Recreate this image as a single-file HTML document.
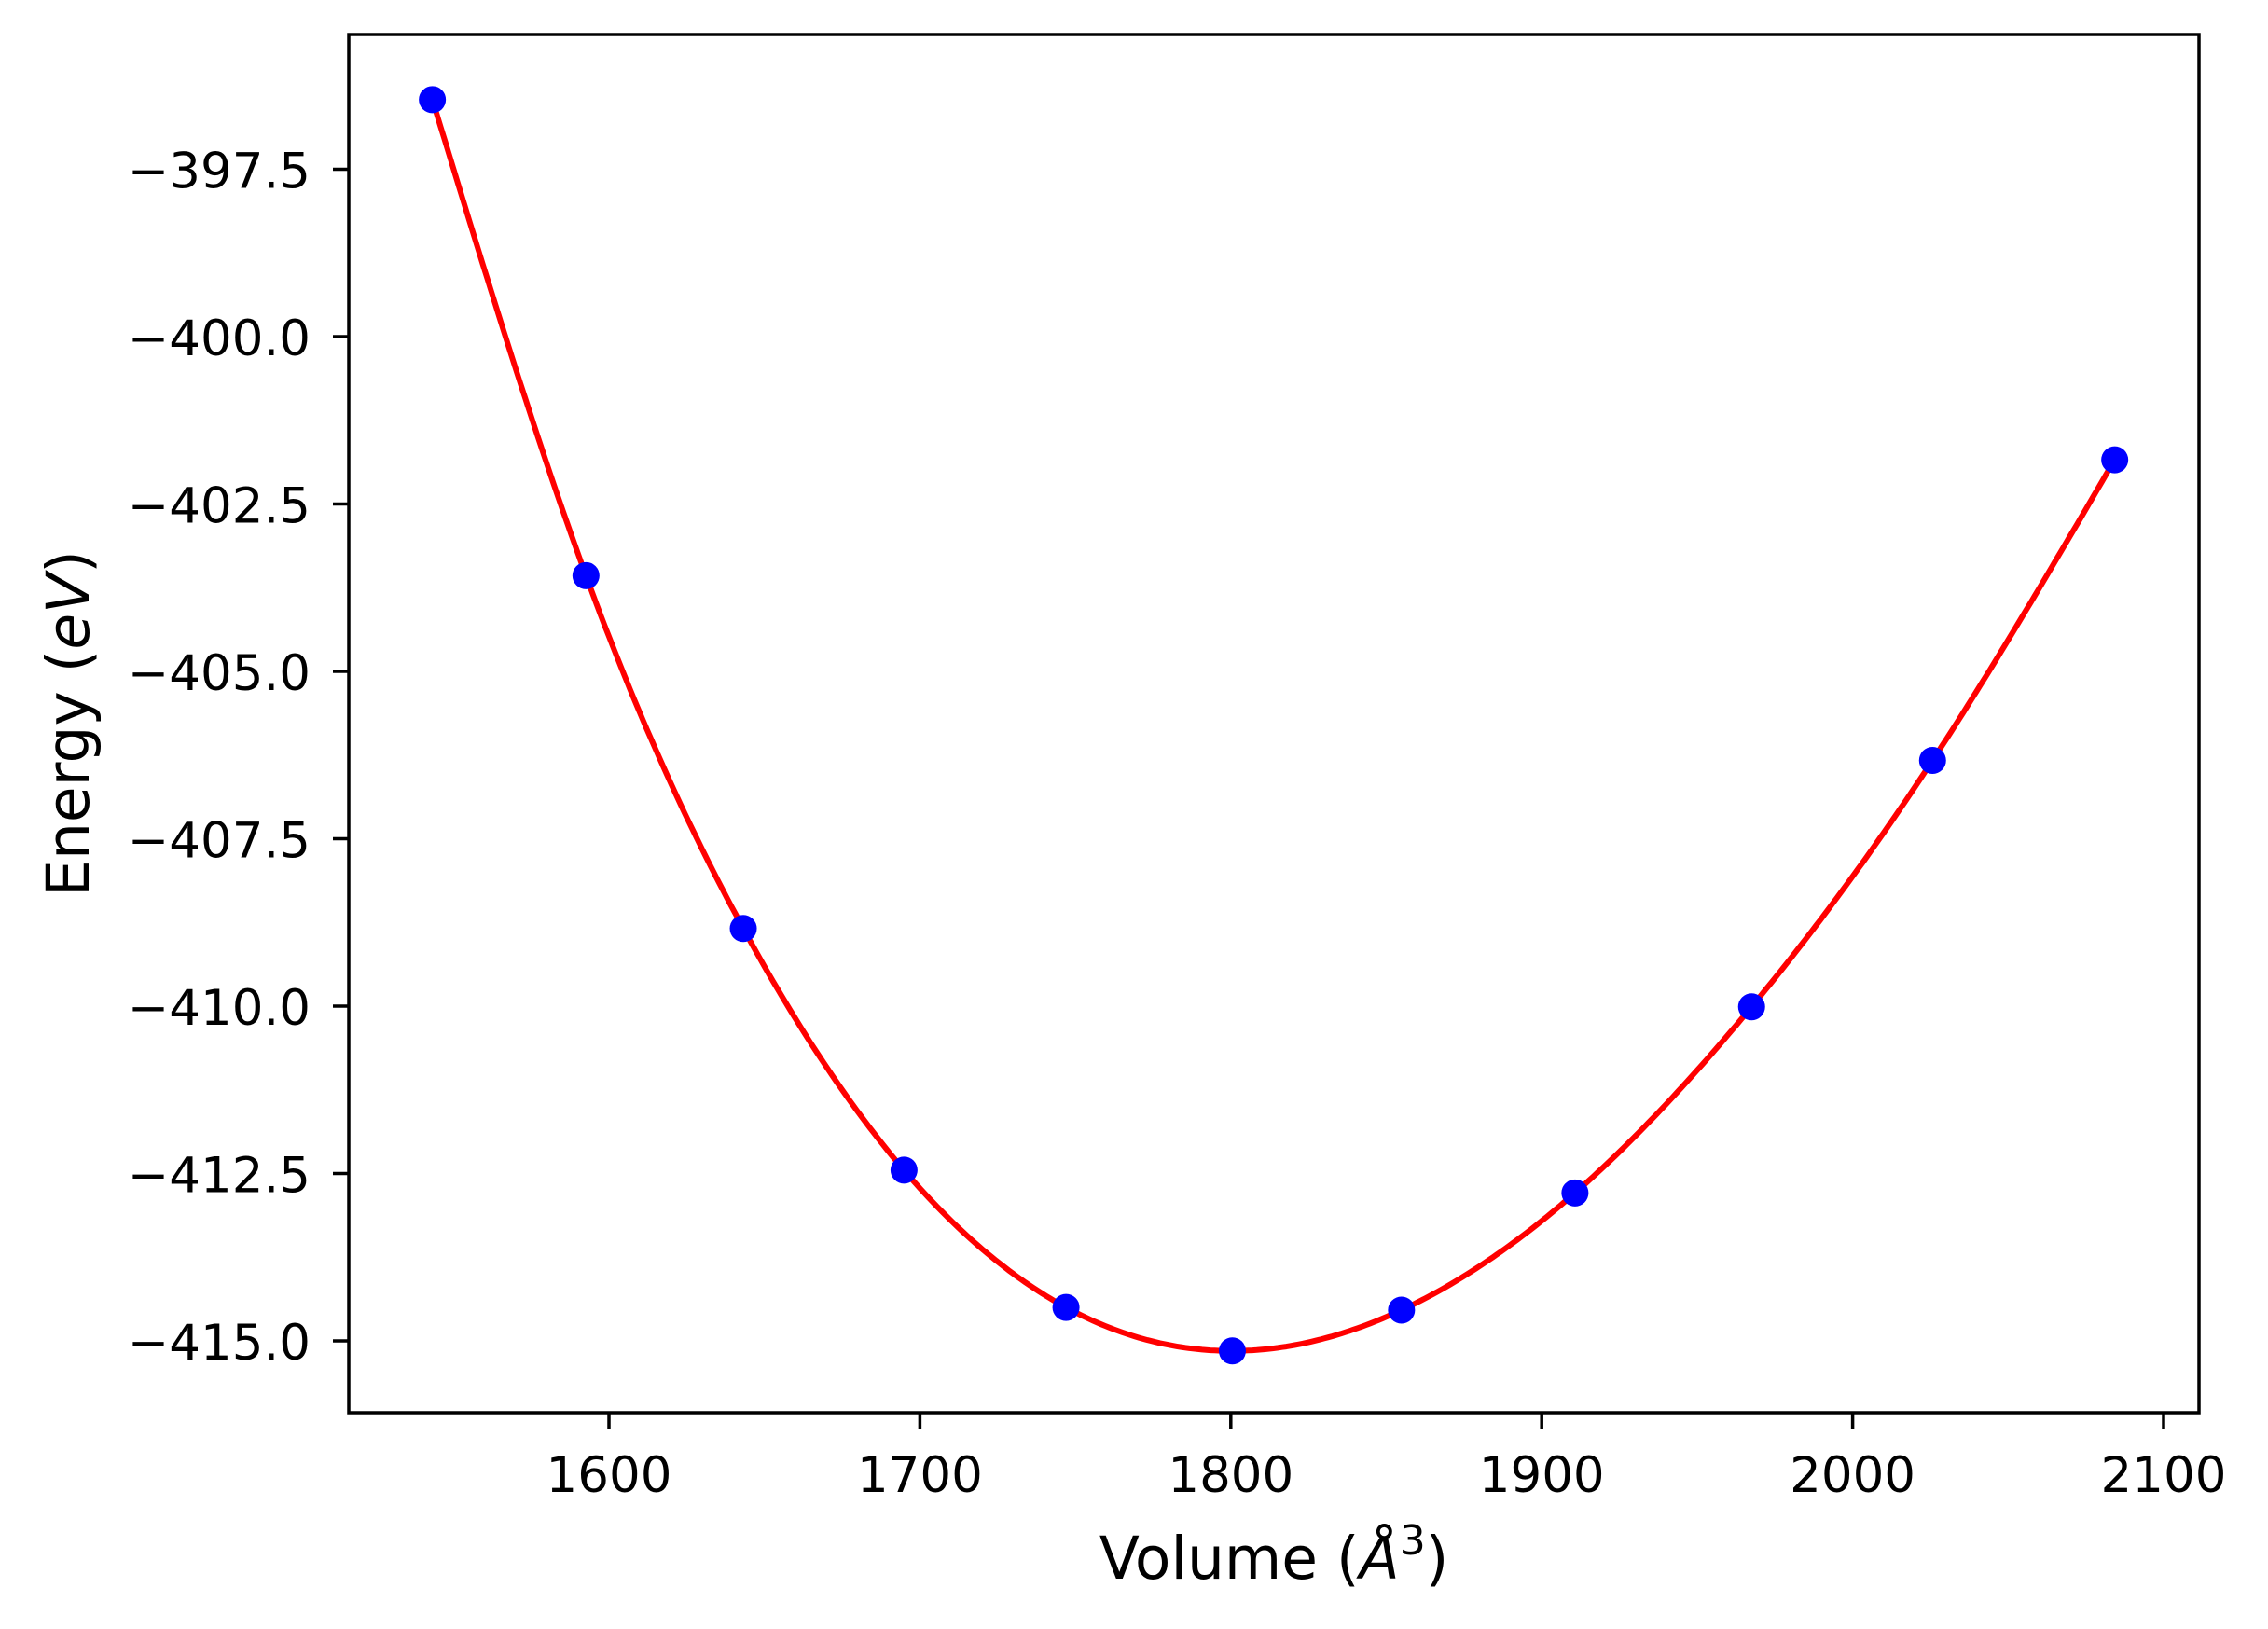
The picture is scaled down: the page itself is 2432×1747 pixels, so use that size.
<!DOCTYPE html>
<html><head><meta charset="utf-8"><style>
html,body{margin:0;padding:0;background:#fff;}
svg{display:block;font-family:"DejaVu Sans","Liberation Sans",sans-serif;}
</style></head><body>
<svg id="chart" width="2432" height="1747" viewBox="0 0 2432 1747" xmlns="http://www.w3.org/2000/svg">
<rect width="2432" height="1747" fill="#fff"/>
<g id="plot"></g>
<g id="axes"></g>
</svg>
<script>
const volumes = [1543.2, 1592.6, 1643.2, 1694.9, 1747.0, 1800.5, 1854.9, 1910.7, 1967.5, 2025.7, 2084.3];
const energies = [-396.46, -403.57, -408.84, -412.45, -414.50, -415.15, -414.54, -412.79, -410.01, -406.33, -401.84];
const xTicks = [1600, 1700, 1800, 1900, 2000, 2100];
const yTicks = [-397.5, -400.0, -402.5, -405.0, -407.5, -410.0, -412.5, -415.0];
const yTickLabels = ["\u2212397.5", "\u2212400.0", "\u2212402.5", "\u2212405.0", "\u2212407.5", "\u2212410.0", "\u2212412.5", "\u2212415.0"];

const AX = {l: 374, r: 2358, t: 37, b: 1515};
function xs(v){ return 653 + (v - 1600) * 3.334; }
function ys(e){ return 181.5 + (-397.5 - e) * 71.8; }
const NS = "http://www.w3.org/2000/svg";
function mk(tag, attrs, parent){ const el = document.createElementNS(NS, tag); for (const k in attrs) el.setAttribute(k, attrs[k]); parent.appendChild(el); return el; }

// natural cubic spline through the data points for the fitted curve
function spline(xv, yv){
  const n = xv.length, h = [], a = [], l = [1], mu = [0], z = [0], c = new Array(n).fill(0), b = [], d = [];
  for (let i = 0; i < n - 1; i++) h.push(xv[i+1] - xv[i]);
  for (let i = 1; i < n - 1; i++) a[i] = 3/h[i]*(yv[i+1]-yv[i]) - 3/h[i-1]*(yv[i]-yv[i-1]);
  for (let i = 1; i < n - 1; i++){ l[i] = 2*(xv[i+1]-xv[i-1]) - h[i-1]*mu[i-1]; mu[i] = h[i]/l[i]; z[i] = (a[i]-h[i-1]*z[i-1])/l[i]; }
  for (let j = n - 2; j >= 0; j--){ c[j] = (j < n-1 ? z[j] - mu[j]*c[j+1] : 0); b[j] = (yv[j+1]-yv[j])/h[j] - h[j]*(c[j+1]+2*c[j])/3; d[j] = (c[j+1]-c[j])/(3*h[j]); }
  return function(x){ let i = 0; while (i < n - 2 && x > xv[i+1]) i++; const dx = x - xv[i]; return yv[i] + b[i]*dx + c[i]*dx*dx + d[i]*dx*dx*dx; };
}
const f = spline(volumes, energies);
const plot = document.getElementById('plot');
let pts = [];
const v0 = volumes[0], v1 = volumes[volumes.length-1];
for (let k = 0; k <= 400; k++){ const v = v0 + (v1 - v0) * k / 400; pts.push(xs(v).toFixed(1) + "," + ys(f(v)).toFixed(1)); }
const curve = mk('polyline', {points: pts.join(' '), fill: 'none', stroke: '#ff0000', 'stroke-width': 6, 'stroke-linejoin': 'round'}, plot);


volumes.forEach((v, i) => {
  const c = mk('circle', {cx: xs(v), cy: ys(energies[i]), r: 14.5, fill: '#0000ff'}, plot);
  
  
});

const axes = document.getElementById('axes');
const frame = mk('rect', {x: AX.l, y: AX.t, width: AX.r - AX.l, height: AX.b - AX.t, fill: 'none', stroke: '#000', 'stroke-width': 3.5}, axes);


xTicks.forEach(t => {
  const x = xs(t);
  const tk = mk('line', {x1: x, x2: x, y1: AX.b, y2: AX.b + 17, stroke: '#000', 'stroke-width': 3.5}, axes);
  
  
  const tx = mk('text', {x: x, y: 1600, 'font-size': 53, 'text-anchor': 'middle'}, axes);
  tx.textContent = String(t);
  
  
});
yTicks.forEach((t, i) => {
  const y = ys(t);
  const tk = mk('line', {x1: AX.l - 17, x2: AX.l, y1: y, y2: y, stroke: '#000', 'stroke-width': 3.5}, axes);
  
  
  const tx = mk('text', {x: 333, y: y + 20, 'font-size': 53, 'text-anchor': 'end'}, axes);
  tx.textContent = yTickLabels[i];
  
  
});
</script>
<svg style="position:absolute;left:0;top:0" width="2432" height="1747">
<text x="1366" y="1693" font-size="63" text-anchor="middle" font-family="DejaVu Sans, Liberation Sans, sans-serif">Volume (<tspan font-style="italic">Å</tspan><tspan font-size="44" dy="-26">3</tspan><tspan dy="26">)</tspan></text>
<text transform="translate(95,776) rotate(-90)" font-size="63" text-anchor="middle" font-family="DejaVu Sans, Liberation Sans, sans-serif">Energy (<tspan font-style="italic">eV</tspan>)</text>
</svg>
</body></html>
